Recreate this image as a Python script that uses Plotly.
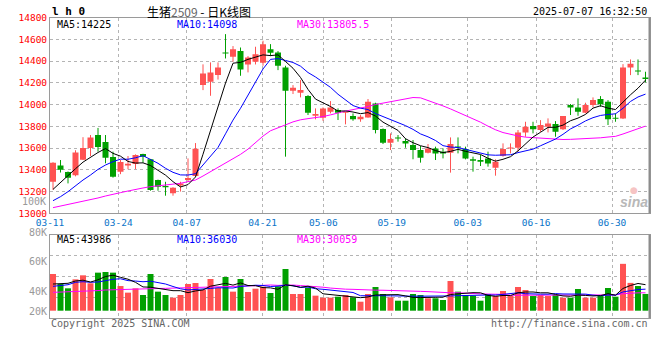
import plotly.graph_objects as go

# ---------------- data ----------------
tick_labels = ["03-11", "03-24", "04-07", "04-21", "05-06", "05-19", "06-03", "06-16", "06-30"]
tick_index = [0, 9, 18, 28, 36, 45, 55, 64, 74]

opens = [13290, 13440, 13380, 13350, 13493, 13600, 13720, 13655, 13518, 13383,
         13440, 13453, 13545, 13496, 13306, 13250, 13184, 13255, 13306, 13343,
         14180, 14210, 14271, 14476, 14440, 14492, 14369, 14394, 14385, 14510,
         14479, 14342, 14127, 14109, 14078, 13897, 13879, 13934, 13950, 13925,
         13894, 13864, 13882, 14011, 13775, 13649, 13692, 13665, 13628, 13582,
         13557, 13597, 13567, 13557, 13610, 13591, 13496, 13490, 13505, 13420,
         13530, 13597, 13603, 13744, 13803, 13766, 13796, 13821, 13772, 13995,
         13974, 13925, 13995, 14051, 14026, 13879, 13873, 14342, 14310, 14250]
highs = [13470, 13490, 13385, 13580, 13700, 13720, 13785, 13720, 13567, 13490,
         13527, 13542, 13548, 13500, 13310, 13290, 13240, 13290, 13505, 13646,
         14370, 14388, 14388, 14648, 14538, 14525, 14446, 14532, 14587, 14556,
         14492, 14357, 14179, 14225, 14087, 13965, 13974, 14032, 13965, 13934,
         13919, 13904, 14051, 14017, 13781, 13735, 13720, 13689, 13674, 13619,
         13637, 13613, 13597, 13698, 13698, 13613, 13521, 13536, 13567, 13496,
         13643, 13643, 13766, 13842, 13842, 13857, 13873, 13848, 13894, 14005,
         14057, 14017, 14066, 14078, 14041, 13919, 14372, 14415, 14415, 14302]
lows = [13215, 13375, 13275, 13340, 13490, 13527, 13567, 13460, 13328, 13360,
        13405, 13407, 13465, 13208, 13208, 13162, 13162, 13200, 13290, 13337,
        14133, 14081, 14230, 14424, 14394, 14265, 14296, 14369, 14357, 14446,
        14317, 13521, 14097, 14066, 13904, 13864, 13851, 13919, 13858, 13818,
        13851, 13842, 13879, 13735, 13637, 13582, 13659, 13603, 13497, 13466,
        13551, 13490, 13505, 13374, 13551, 13496, 13383, 13435, 13429, 13346,
        13521, 13551, 13567, 13704, 13735, 13750, 13744, 13704, 13766, 13904,
        13897, 13919, 13974, 13980, 13812, 13842, 13867, 14271, 14271, 14204]
closes = [13465, 13400, 13328, 13560, 13600, 13698, 13610, 13511, 13337, 13472,
          13455, 13536, 13520, 13215, 13245, 13240, 13236, 13275, 13325, 13594,
          14286, 14296, 14342, 14470, 14510, 14323, 14433, 14464, 14556, 14476,
          14357, 14127, 14155, 14133, 13925, 13913, 13965, 13974, 13925, 13930,
          13864, 13888, 14026, 13766, 13649, 13683, 13689, 13643, 13582, 13511,
          13597, 13551, 13551, 13637, 13606, 13505, 13484, 13475, 13459, 13475,
          13591, 13603, 13744, 13796, 13772, 13812, 13827, 13750, 13894, 13974,
          13934, 13995, 14041, 14002, 13864, 13870, 14340, 14375, 14305, 14235]
volumes = [62000, 45100, 37800, 53000, 59800, 46300, 64300, 65400, 64300, 41700,
           30500, 37800, 26500, 62000, 32200, 26500, 22000, 26500, 45100, 46800,
           35000, 53600, 38400, 57000, 32200, 53600, 31600, 37200, 40600, 29900,
           41200, 70500, 28200, 28200, 38900, 25400, 22000, 22000, 23700, 26500,
           22600, 15200, 28200, 40100, 28200, 22600, 16900, 16900, 28200, 26500,
           21000, 21000, 18100, 50200, 32200, 26500, 25400, 16900, 28200, 24800,
           33300, 24800, 40100, 35000, 24800, 26500, 24800, 26500, 22000, 22000,
           36700, 22000, 22000, 24800, 38400, 23700, 79200, 47000, 41700, 28300]

# moving-average values before a full window exists
ma5_head = [13220, 13285, 13345, 13410]
ma10_head = [13116, 13153, 13199, 13254, 13306, 13352, 13404, 13444, 13475]
ma30_head = [13052, 13067, 13080, 13095, 13107, 13126, 13141, 13159, 13178, 13190,
             13205, 13221, 13233, 13245, 13254, 13260, 13266, 13276, 13291, 13306,
             13343, 13383, 13420, 13459, 13502, 13542, 13590, 13650, 13710]
vma5_head = [45100, 45100, 46300, 50200]
vma10_head = [41200, 42300, 43900, 48000, 49000, 48000, 48500, 50700, 53100]
vma30_head = [31000, 31300, 31800, 32300, 32900, 33400, 34000, 35000, 35500, 36100,
              36400, 36700, 36900, 37200, 37500, 37800, 38100, 38400, 38600, 38900,
              39500, 39700, 40000, 40600, 40800, 41100, 41700, 42200, 42800]

title_text = '生猪<span style="color:#666666">2509</span> - 日K线图'
time_text = "2025-07-07 16:32:50"
price_ma_text = ["MA5:14225", "MA10:14098", "MA30:13805.5"]
vol_ma_text = ["MA5:43986", "MA10:36030", "MA30:30059"]
vol_axis_labels = ["80K", "60K", "40K", "20K"]
price_ticks = list(range(13000, 14801, 200))


def moving_average(vals, n, head):
    out = list(head)
    for i in range(n - 1, len(vals)):
        out.append(sum(vals[i - n + 1:i + 1]) / n)
    return out


ma5 = moving_average(closes, 5, ma5_head)
ma10 = moving_average(closes, 10, ma10_head)
ma30 = moving_average(closes, 30, ma30_head)
vma5 = moving_average(volumes, 5, vma5_head)
vma10 = moving_average(volumes, 10, vma10_head)
vma30 = moving_average(volumes, 30, vma30_head)

# ---------------- style ----------------
W, H = 660, 360
RED = "#FF5252"
GREEN = "#00A000"
MONO = "DejaVu Sans Mono"
GRID = "#b4b4b4"
BORDER = "#9a9a9a"
n = len(closes)
idx = list(range(n))


def py(px):  # pixel row -> paper fraction
    return 1 - px / H


def pxx(px):  # pixel column -> paper fraction
    return px / W


# grid/label positions (sina spaces grid slightly differently from candles)
grid_x = [(50 + k * 600 / 79 - 53) / 7.5 for k in tick_index]

up = [c >= o for o, c in zip(opens, closes)]
colors = [RED if u else GREEN for u in up]
body_base = [min(o, c) for o, c in zip(opens, closes)]
body_h = [max(abs(c - o), 9) for o, c in zip(opens, closes)]

fig = go.Figure()

# wicks
for flag, col in ((True, RED), (False, GREEN)):
    wx, wy = [], []
    for i in idx:
        if up[i] == flag:
            wx += [i, i, None]
            wy += [lows[i], highs[i], None]
    fig.add_trace(go.Scatter(x=wx, y=wy, mode="lines", line=dict(color=col, width=1),
                             xaxis="x", yaxis="y", hoverinfo="skip", showlegend=False))

# candle bodies
fig.add_trace(go.Bar(x=idx, y=body_h, base=body_base, width=0.8,
                     marker=dict(color=colors, line=dict(width=0)),
                     xaxis="x", yaxis="y", showlegend=False))

for series, col in ((ma30, "#FF00FF"), (ma10, "#0000FF"), (ma5, "#000000")):
    fig.add_trace(go.Scatter(x=idx, y=series, mode="lines", line=dict(color=col, width=1),
                             xaxis="x", yaxis="y", showlegend=False))

# volume
fig.add_trace(go.Bar(x=idx, y=volumes, width=0.8,
                     marker=dict(color=colors, line=dict(width=0)),
                     xaxis="x2", yaxis="y2", showlegend=False))
for series, col in ((vma30, "#FF00FF"), (vma10, "#0000FF"), (vma5, "#000000")):
    fig.add_trace(go.Scatter(x=idx, y=series, mode="lines", line=dict(color=col, width=1),
                             xaxis="x2", yaxis="y2", showlegend=False))

# volume axis range: base at px 310.7, box from px 318 to 234.7
K = 1690.0
v_lo = -(318 - 310.7) * K
v_hi = (310.7 - 234.7) * K
v_grid = [v_lo + (v_hi - v_lo) * q for q in (0.25, 0.5, 0.75)]

axis_common = dict(showline=True, mirror=True, linecolor=BORDER, linewidth=1,
                   zeroline=False, ticks="", showgrid=True, gridcolor=GRID,
                   griddash="dot", gridwidth=1, automargin=False)

fig.update_layout(
    template="none",
    width=W, height=H, margin=dict(l=0, r=0, t=0, b=0, pad=0),
    paper_bgcolor="white", plot_bgcolor="white",
    barmode="overlay", showlegend=False, hovermode=False,
    xaxis=dict(domain=[pxx(50), pxx(650)], range=[-0.4, 79.6], anchor="y",
               tickmode="array", tickvals=grid_x, ticktext=tick_labels,
               tickfont=dict(family=MONO, size=9.5, color="#0A74C9"), **axis_common),
    yaxis=dict(domain=[py(213.3), py(17.6)], range=[13000, 14800], anchor="x",
               tickmode="array", tickvals=price_ticks,
               ticktext=[str(v) for v in price_ticks],
               tickfont=dict(family=MONO, size=9.5, color="#FF0000"), **axis_common),
    xaxis2=dict(domain=[pxx(50), pxx(650)], range=[-0.4, 79.6], anchor="y2",
                matches="x", tickmode="array", tickvals=grid_x, showticklabels=False,
                **axis_common),
    yaxis2=dict(domain=[py(318), py(234.7)], range=[v_lo, v_hi], anchor="x2",
                tickmode="array", tickvals=v_grid, showticklabels=False, **axis_common),
)

# slightly heavier right-hand frame edge, as in the original
for y0, y1 in ((17.6, 213.3), (234.7, 318)):
    fig.add_shape(type="line", xref="paper", yref="paper", x0=pxx(649.5), x1=pxx(649.5),
                  y0=py(y0), y1=py(y1), line=dict(color="#8c8c8c", width=2))

ann = []


def add_text(text, x, y, color="#000000", size=10, xanchor="left", family=MONO, **kw):
    ann.append(dict(text=text, x=pxx(x), y=py(y), xref="paper", yref="paper",
                    xanchor=xanchor, yanchor="middle", showarrow=False,
                    font=dict(family=family, size=size, color=color), **kw))


add_text("<b>l h 0</b>", 50, 11.5, size=11)
add_text(title_text, 199, 11, size=12, xanchor="center", family="Noto Sans CJK SC")
add_text(time_text, 649, 11.5, xanchor="right")
for t, x, c in zip(price_ma_text, (55, 175, 295), ("#000000", "#0000FF", "#FF00FF")):
    add_text(t, x, 24.5, color=c)
for t, x, c in zip(vol_ma_text, (55, 175, 295), ("#000000", "#0000FF", "#FF00FF")):
    add_text(t, x, 239, color=c)
for t, y in zip(vol_axis_labels, (232, 261, 291, 311)):
    add_text(t, 47.5, y, color="#999999", xanchor="right", borderpad=0)
add_text("100K", 47.5, 201, color="#999999", xanchor="right")
add_text("<b><i>sina</i></b>", 634, 202, color="#b8b8b8", size=14, xanchor="center",
         family="Liberation Sans")
add_text("●", 634, 190, color="#f6c4c4", size=9, xanchor="center", family="DejaVu Sans")
add_text("Copyright 2025 SINA.COM", 49, 323.5, color="#666666")
add_text("http://finance.sina.com.cn", 650, 323.5, color="#666666", xanchor="right")

fig.update_layout(annotations=ann)
fig.write_html("out.html",
               config={"displayModeBar": False, "staticPlot": True},
               post_script="document.body.style.margin='0px';"
                           "document.body.style.overflow='hidden';")
